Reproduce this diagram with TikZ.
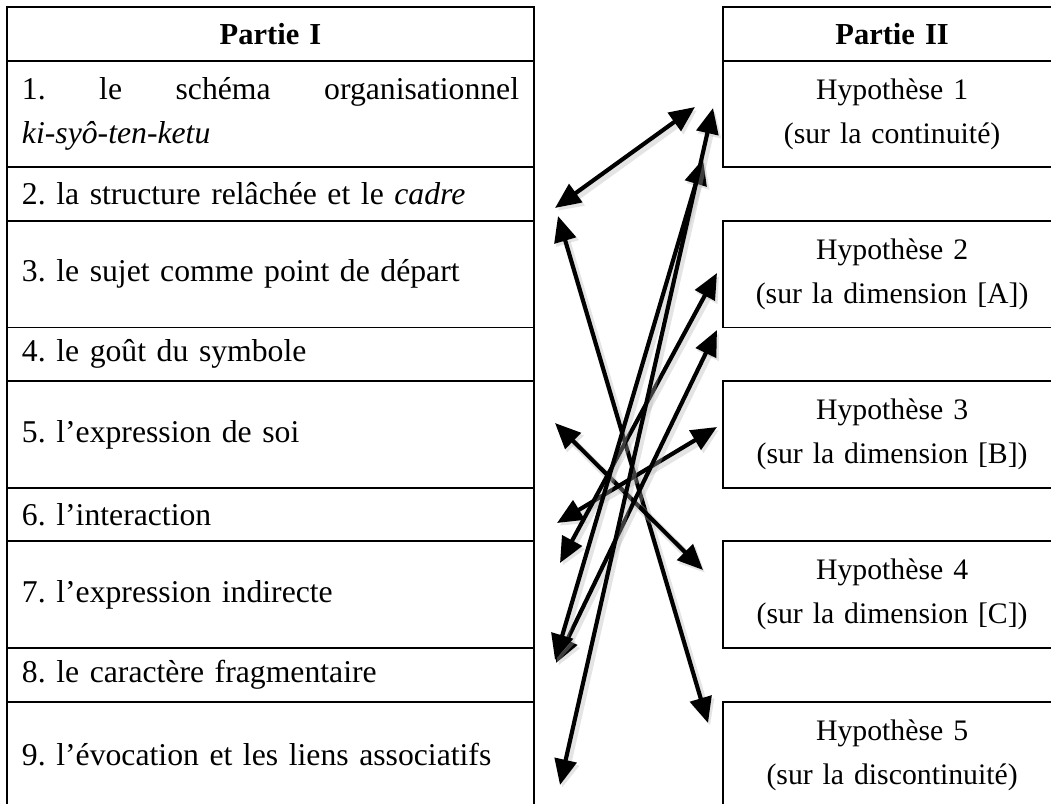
\documentclass[tikz,border=0pt]{standalone}
\usepackage{fontspec}
\setmainfont{Liberation Serif}
\usetikzlibrary{arrows.meta,positioning}
\frenchspacing

\begin{document}
\begin{tikzpicture}[x=0.41pt, y=-0.41pt, font=\fontsize{13}{18}\selectfont,
  cell/.style={draw, line width=0.8pt, outer sep=0pt, inner xsep=6.15pt, inner ysep=1pt, text width=203.8pt, align=left, minimum height=22pt},
  tall/.style={minimum height=43.7pt},
  head/.style={cell, align=center, font=\fontsize{12.5}{18}\selectfont\bfseries},
  hyp/.style={draw, line width=0.8pt, outer sep=0pt, inner xsep=0pt, inner ysep=1pt, text width=138.6pt, align=center, minimum height=43.7pt, font=\fontsize{12.2}{18}\selectfont},
  link/.style={{Triangle[length=10.5pt,width=9pt]}-{Triangle[length=10.5pt,width=9pt]}, line width=1.7pt,
    preaction={draw=black!30, opacity=.35, line width=3pt, transform canvas={xshift=0.9pt, yshift=-1.2pt}}}]
\useasboundingbox (0,0) rectangle (1051,803);

% Partie I
\node[head, anchor=north west] (p1) at (7,7) {Partie I};
\node[cell, tall, below=0pt of p1] (r1) {1.\hfill le\hfill schéma\hfill organisationnel\\\textit{ki-syô-ten-ketu}};
\node[cell, below=0pt of r1] (r2) {2. la structure relâchée et le \textit{cadre}};
\node[cell, tall, below=0pt of r2] (r3) {3. le sujet comme point de départ};
\node[cell, below=0pt of r3] (r4) {4. le goût du symbole};
\node[cell, tall, below=0pt of r4] (r5) {5. l’expression de soi};
\node[cell, below=0pt of r5] (r6) {6. l’interaction};
\node[cell, tall, below=0pt of r6] (r7) {7. l’expression indirecte};
\node[cell, below=0pt of r7] (r8) {8. le caractère fragmentaire};
\node[cell, tall, below=0pt of r8] (r9) {9. l’évocation et les liens associatifs};

% Partie II
\node[hyp, head, text width=138.6pt, inner xsep=0pt, right=77.5pt of p1] (p2) {Partie II};
\node[hyp, right=77.5pt of r1] (h1) {Hypothèse 1\\(sur la continuité)};
\node[hyp, right=77.5pt of r3] (h2) {Hypothèse 2\\(sur la dimension [A])};
\node[hyp, right=77.5pt of r5] (h3) {Hypothèse 3\\(sur la dimension [B])};
\node[hyp, right=77.5pt of r7] (h4) {Hypothèse 4\\(sur la dimension [C])};
\node[hyp, right=77.5pt of r9] (h5) {Hypothèse 5\\(sur la discontinuité)};

% arrow ends
\coordinate (t2) at (555,208);
\coordinate (t3) at (558,216);
\coordinate (t5) at (555,423);
\coordinate (t6) at (557,523);
\coordinate (t7) at (560,563);
\coordinate (t8a) at (555,660);
\coordinate (t8b) at (556,663);
\coordinate (t9) at (560,785);
\coordinate (s1a) at (695,107);
\coordinate (s1b) at (703,159);
\coordinate (s1c) at (713,108);
\coordinate (s2a) at (717,273);
\coordinate (s2b) at (717,330);
\coordinate (s3) at (717,427);
\coordinate (s4) at (703,570);
\coordinate (s5) at (708,723);

\foreach \a/\b in {t2/s1a, t3/s5, t5/s4, t6/s3, t7/s2a, t8b/s2b, t8a/s1b, t9/s1c}
  \draw[link] (\a) -- (\b);
\end{tikzpicture}
\end{document}
